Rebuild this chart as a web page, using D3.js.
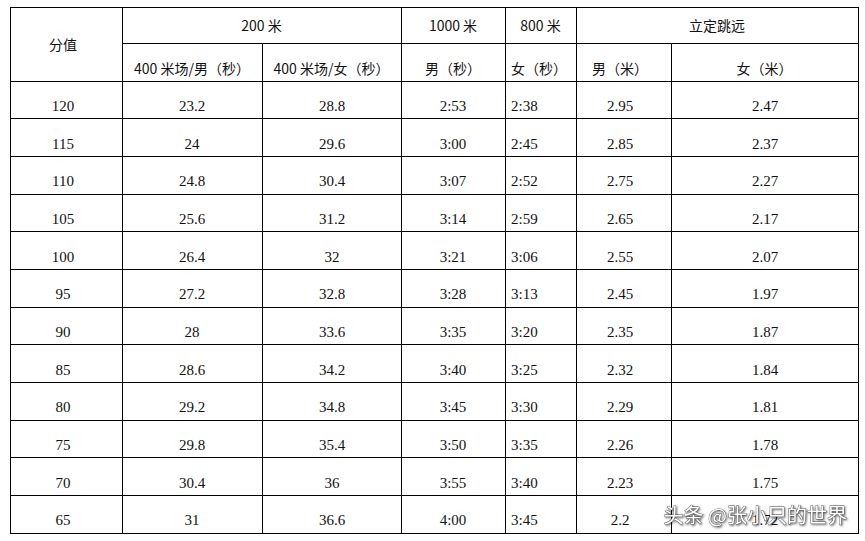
<!DOCTYPE html>
<html><head><meta charset="utf-8">
<script src="https://cdn.jsdelivr.net/npm/d3@7"></script>
<style>body{margin:0;background:#fff}</style>
</head><body>
<svg id="main" width="865" height="541"></svg>
<script>
// table data
const scores = [120,115,110,105,100,95,90,85,80,75,70,65];
const run200Male = ["23.2","24","24.8","25.6","26.4","27.2","28","28.6","29.2","29.8","30.4","31"];
const run200Female = ["28.8","29.6","30.4","31.2","32","32.8","33.6","34.2","34.8","35.4","36","36.6"];
const run1000 = ["2:53","3:00","3:07","3:14","3:21","3:28","3:35","3:40","3:45","3:50","3:55","4:00"];
const run800 = ["2:38","2:45","2:52","2:59","3:06","3:13","3:20","3:25","3:30","3:35","3:40","3:45"];
const jumpMale = ["2.95","2.85","2.75","2.65","2.55","2.45","2.35","2.32","2.29","2.26","2.23","2.2"];
const jumpFemale = ["2.47","2.37","2.27","2.17","2.07","1.97","1.87","1.84","1.81","1.78","1.75","1.72"];
const subHeaders = ["400 米场/男（秒）","400 米场/女（秒）","男（秒）","女（秒）","男（米）","女（米）"];

const svg = d3.select("#main");
const colX = [10,122,262,401,505,576,671,858];
const tableTop = 7, h1 = 43, h2 = 81, tableBottom = 533;
const y = d3.scaleBand().domain(d3.range(scores.length)).range([h2, tableBottom]);
const sans = "'Noto Sans CJK SC', sans-serif", serif = "'Liberation Serif', serif";
const g = svg.append("g").attr("stroke","#000").attr("stroke-width",1).attr("shape-rendering","crispEdges");

// grid lines
g.append("rect").attr("x",colX[0]).attr("y",tableTop).attr("width",colX[7]-colX[0]).attr("height",tableBottom-tableTop).attr("fill","none");
g.append("line").attr("x1",colX[1]).attr("x2",colX[7]).attr("y1",h1).attr("y2",h1);
[h2].concat(d3.range(1,scores.length).map(i=>y(i))).forEach(v=>
  g.append("line").attr("x1",colX[0]).attr("x2",colX[7]).attr("y1",v).attr("y2",v));
[1,3,4,5].forEach(i=>g.append("line").attr("x1",colX[i]).attr("x2",colX[i]).attr("y1",tableTop).attr("y2",tableBottom));
[2,6].forEach(i=>g.append("line").attr("x1",colX[i]).attr("x2",colX[i]).attr("y1",h1).attr("y2",tableBottom));

function txt(x,yy,s,font,size,anchor){
  svg.append("text").attr("x",x).attr("y",yy).attr("text-anchor",anchor||"middle")
    .attr("dominant-baseline","central").attr("font-family",font).attr("font-size",size).attr("fill","#111").text(s);
}
txt(63,(tableTop+h2)/2,"分值",sans,14);
txt((colX[1]+colX[3])/2,(tableTop+h1)/2,"200 米",sans,14);
txt((colX[3]+colX[4])/2,(tableTop+h1)/2,"1000 米",sans,14);
txt((colX[4]+colX[5])/2,(tableTop+h1)/2,"800 米",sans,14);
txt((colX[5]+colX[7])/2,(tableTop+h1)/2,"立定跳远",sans,14);
subHeaders.forEach((s,i)=>{
  if(i===3) txt(colX[4]+6,(h1+h2)/2+6,s,sans,14,"start");
  else if(i===4) txt(colX[5]+16,(h1+h2)/2+6,s,sans,14,"start");
  else txt((colX[i+1]+colX[i+2])/2,(h1+h2)/2+6,s,sans,14);
});
const cols = [scores,run200Male,run200Female,run1000,run800,jumpMale,jumpFemale];
const cx = [63,192,332,453,511,620,765];
cols.forEach((col,c)=>col.forEach((v,i)=>{
  txt(cx[c], y(i)+y.bandwidth()/2+6, v, serif, 15, c===4?"start":"middle");
}));

// watermark
svg.append("text").attr("x",847).attr("y",523).attr("text-anchor","end")
  .attr("font-family",sans).attr("font-size",20).attr("fill","#fff")
  .attr("stroke","#555").attr("stroke-width",0.8).attr("paint-order","stroke")
  .style("filter","drop-shadow(1px 1px 1px rgba(0,0,0,0.6))")
  .text("头条 @张小只的世界");
</script>
</body></html>
